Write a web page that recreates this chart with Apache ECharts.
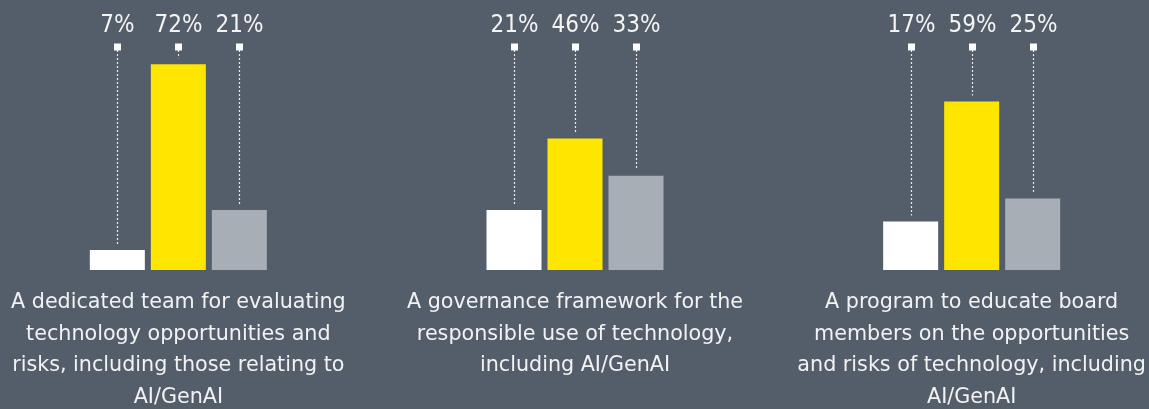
<!DOCTYPE html>
<html><head><meta charset="utf-8">
<script src="https://cdn.jsdelivr.net/npm/echarts@6/dist/echarts.min.js"></script>
<style>html,body{margin:0;padding:0;background:#545e6a;}#c{width:1149px;height:409px;}</style>
</head><body><div id="c"></div>
<script>
const categories = [
  "A dedicated team for evaluating\ntechnology opportunities and\nrisks, including those relating to\nAI/GenAI",
  "A governance framework for the\nresponsible use of technology,\nincluding AI/GenAI",
  "A program to educate board\nmembers on the opportunities\nand risks of technology, including\nAI/GenAI"
];
const seriesNames = ["Response A", "Response B", "Response C"];
const valuesA = [7, 21, 17];
const valuesB = [72, 46, 59];
const valuesC = [21, 33, 25];

const colors = ["#ffffff", "#ffe600", "#a7aeb5"];
const BAR_W = 55, GAP = 6, Y_MAX = 94.5;
const allValues = [valuesA, valuesB, valuesC];

function leader(idx) {
  return function (params, api) {
    const cat = api.value(0), v = api.value(1);
    const p = api.coord([cat, v]);
    const top = api.coord([cat, Y_MAX])[1];
    const x = Math.round(p[0] + (idx - 1) * (BAR_W + GAP)) + 0.5;
    const markY = top + 47;
    return {
      type: 'group',
      children: [
        { type: 'line', shape: { x1: x, y1: markY + 3, x2: x, y2: p[1] - 6 },
          style: { stroke: '#e6e8ea', lineWidth: 1.2, lineDash: [2, 2] } },
        { type: 'rect', shape: { x: x - 3.5, y: markY - 3.5, width: 7, height: 7 },
          style: { fill: '#ffffff' } },
        { type: 'text', x: x, y: top + 26,
          style: { text: v + '%', fill: '#f4f4f4', fontSize: 24,
            fontFamily: 'DejaVu Sans Condensed', align: 'center', verticalAlign: 'middle' } }
      ]
    };
  };
}

const series = [];
allValues.forEach((vals, i) => {
  series.push({ type: 'bar', name: seriesNames[i], data: vals, barWidth: BAR_W,
    barGap: (GAP / BAR_W * 100) + '%', itemStyle: { color: colors[i] }, silent: true, z: 2 });
});
allValues.forEach((vals, i) => {
  series.push({ type: 'custom', name: seriesNames[i] + ' label',
    data: vals.map((v, j) => [j, v]), renderItem: leader(i), z: 3, silent: true });
});

const chart = echarts.init(document.getElementById('c'));
chart.setOption({
  backgroundColor: '#545e6a',
  animation: false,
  grid: { left: -20, right: -21, top: 0, bottom: 139, outerBoundsMode: 'none', containLabel: false },
  xAxis: { type: 'category', data: categories,
    axisLine: { show: false }, axisTick: { show: false },
    axisLabel: { interval: 0, margin: 17, color: '#f2f2f2', fontSize: 20.7, lineHeight: 31.5,
      fontFamily: 'DejaVu Sans', align: 'center' } },
  yAxis: { type: 'value', min: 0, max: Y_MAX, show: false, splitLine: { show: false } },
  series: series
});
</script></body></html>
